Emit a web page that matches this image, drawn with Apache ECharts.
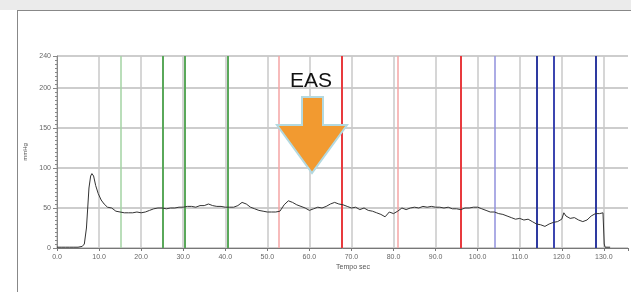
<!DOCTYPE html>
<html>
<head>
<meta charset="utf-8">
<script src="https://cdn.jsdelivr.net/npm/echarts@6/dist/echarts.min.js"></script>
<style>
  html, body { margin: 0; padding: 0; background: #fff; }
  #chart { width: 631px; height: 292px; }
</style>
</head>
<body>
<div id="chart"></div>
<script>
// pressure trace (Tempo sec / mmHg)
var times = [0, 1, 2, 3, 4, 5, 6, 6.5, 7, 7.3, 7.6, 8, 8.3, 8.7, 9.2, 9.8, 10.5, 11.2, 12, 13,
  14, 15, 16, 17, 18, 19, 20, 21, 22, 23, 24, 25, 26, 27, 28, 29, 30, 31, 32, 33,
  34, 35, 36, 37, 38, 39, 40, 41, 42, 43, 44, 45, 46, 47, 48, 49, 50, 51, 52, 53,
  54, 55, 56, 57, 58, 59, 60, 61, 62, 63, 64, 65, 66, 67, 68, 69, 70, 71, 72, 73,
  74, 75, 76, 77, 78, 79, 80, 81, 82, 83, 84, 85, 86, 87, 88, 89, 90, 91, 92, 93,
  94, 95, 96, 97, 98, 99, 100, 101, 102, 103, 104, 105, 106, 107, 108, 109, 110, 111, 112, 113,
  114, 115, 116, 117, 118, 119, 120, 120.5, 121, 122, 123, 124, 125, 126, 127, 128, 129, 129.8, 130.1, 130.3, 131.5]
var pressure = [1, 1, 1, 1, 1, 1, 2, 5, 25, 50, 75, 90, 93, 90, 78, 68, 60, 55, 51, 50,
  46, 45, 44, 44, 44, 45, 44, 45, 47, 49, 50, 50, 49, 50, 50, 51, 51, 52, 52, 51,
  53, 53, 55, 53, 52, 52, 51, 51, 51, 53, 57, 55, 51, 49, 47, 46, 45, 45, 45, 46,
  54, 59, 57, 54, 52, 50, 47, 49, 51, 50, 52, 55, 57, 55, 54, 52, 50, 51, 48, 50,
  47, 46, 44, 42, 39, 45, 43, 46, 50, 48, 50, 51, 50, 52, 51, 52, 51, 51, 50, 51,
  49, 49, 48, 50, 50, 51, 51, 49, 47, 45, 45, 43, 42, 40, 38, 36, 37, 35, 36, 33,
  30, 29, 27, 30, 32, 33, 36, 44, 40, 37, 38, 35, 33, 35, 40, 43, 43, 44, 5, 1, 1]

var xTicks = [0, 10, 20, 30, 40, 50, 60, 70, 80, 90, 100, 110, 120, 130]
var yTicks = [0, 50, 100, 150, 200, 240]

// event markers (seconds)
var markerTimes = [15.1, 25.1, 30.3, 40.5, 52.7, 67.6, 81.1, 96.1, 104, 114.1, 118.2, 128]
var markerStyles = [
  ['#a3d3a3', 1.5], ['#5aa85a', 2], ['#5aa85a', 2], ['#5aa85a', 2],
  ['#f5a5a5', 1.5], ['#e83a3e', 2], ['#f5a5a5', 1.5], ['#e83a3e', 2],
  ['#9090dc', 1.5], ['#2e3aa0', 2], ['#3c46b0', 2], ['#2e3aa0', 2]
]

var chart = echarts.init(document.getElementById('chart'))

var points = times.map(function (t, i) { return [t, pressure[i]] })
var marks = markerTimes.map(function (t, i) {
  return { xAxis: t, lineStyle: { color: markerStyles[i][0], width: markerStyles[i][1], type: 'solid' } }
})

chart.setOption({
  animation: false,
  backgroundColor: '#fff',
  grid: { left: 57, top: 56, width: 574, height: 192 },
  xAxis: {
    type: 'value',
    min: 0,
    max: 135.75,
    interval: 10,
    name: 'Tempo sec',
    nameLocation: 'start',
    nameGap: -(70 * 574 / 135.75),
    nameTextStyle: { fontSize: 7, color: '#555', fontFamily: 'Liberation Sans', align: 'center', verticalAlign: 'top', padding: [16, 0, 0, 0] },
    axisLine: { lineStyle: { color: '#777', width: 1 } },
    axisTick: { show: true, length: 3, lineStyle: { color: '#777' } },
    axisLabel: {
      fontSize: 7, color: '#666', margin: 6, fontFamily: 'Liberation Sans',
      formatter: function (v) { return xTicks.indexOf(v) >= 0 ? v.toFixed(1) : '' }
    },
    splitLine: { showMaxLine: false, lineStyle: { color: '#c8c8c8', width: 1.5 } }
  },
  yAxis: {
    type: 'value',
    min: 0,
    max: 240,
    interval: 50,
    name: 'mmHg',
    nameLocation: 'middle',
    nameGap: 21,
    nameRotate: 90,
    nameTextStyle: { fontSize: 6, color: '#555', fontFamily: 'Liberation Sans' },
    axisLine: { show: true, lineStyle: { color: '#888', width: 1 } },
    axisTick: { show: true, length: 4, lineStyle: { color: '#888' } },
    minorTick: { show: true, splitNumber: 10, length: 2, lineStyle: { color: '#888' } },
    axisLabel: {
      fontSize: 7, color: '#666', margin: 6, fontFamily: 'Liberation Sans',
      formatter: function (v) { return yTicks.indexOf(v) >= 0 ? String(v) : '' }
    },
    splitLine: { lineStyle: { color: '#bdbdbd', width: 1.5 } }
  },
  series: [
    {
      type: 'line',
      data: points,
      showSymbol: false,
      lineStyle: { color: '#333', width: 1 },
      z: 5,
      markLine: {
        silent: true,
        symbol: 'none',
        label: { show: false },
        z: 3,
        data: marks
      }
    }
  ],
  graphic: [
    { type: 'rect', shape: { x: 0, y: 0, width: 631, height: 10 }, style: { fill: '#ebebeb' }, silent: true },
    { type: 'line', shape: { x1: 17, y1: 10.5, x2: 631, y2: 10.5 }, style: { stroke: '#888', lineWidth: 1 }, silent: true },
    { type: 'line', shape: { x1: 17.5, y1: 10, x2: 17.5, y2: 292 }, style: { stroke: '#888', lineWidth: 1 }, silent: true },
    {
      type: 'polygon',
      shape: { points: [[302, 97], [323, 97], [323, 125], [347, 125], [312, 173], [277, 125], [302, 125]] },
      style: { fill: '#f29a30', stroke: '#b3d9e0', lineWidth: 2 },
      z: 10,
      silent: true
    },
    {
      type: 'text',
      x: 311, y: 81,
      style: { text: 'EAS', fontSize: 21, fontFamily: 'Liberation Sans', fill: '#111', align: 'center', verticalAlign: 'middle' },
      z: 10,
      silent: true
    }
  ]
})
</script>
</body>
</html>
